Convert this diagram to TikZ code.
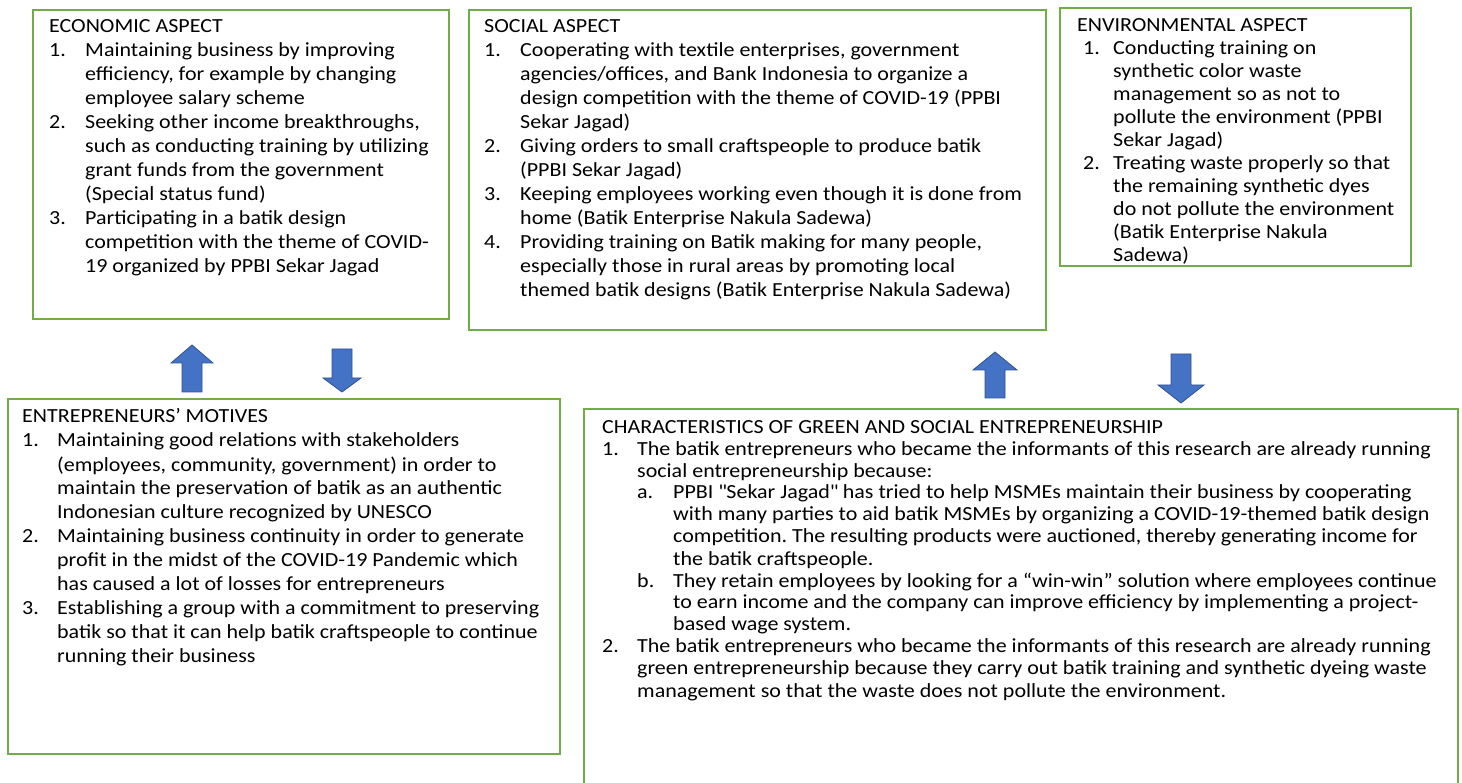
\documentclass[tikz,border=0pt]{standalone}
\usepackage{fontspec}
\setmainfont{Carlito}[FakeStretch=1.1]
\usepackage{xcolor}
\usepackage{tikz}
\usetikzlibrary{calc}
\usetikzlibrary{positioning}
\definecolor{boxgreen}{HTML}{70AD47}
\definecolor{arrowblue}{HTML}{4472C4}
\definecolor{arrowedge}{HTML}{2F528F}
\frenchspacing

\begin{document}
\begin{tikzpicture}[x=1pt,y=-1pt]
% 1 = 1px of the page, y grows downwards
    \def\SHAFT{10}  %half width of arrow shafts
    \def\NUMCOL{36pt} %width of the number column

    \tikzset{
      aspect box/.style={draw=boxgreen, line width=2pt},
      box text/.style={anchor=base west, inner sep=0pt, align=left},
      block arrow/.style={fill=arrowblue, draw=arrowedge, line width=0.8pt},
    }

    \clip (0,0) rectangle (1462,783);

    %ECONOMIC BOX
    \draw [aspect box] (33,10) coordinate (EA) rectangle (449,319) coordinate (EB);
    \node[box text] (econ) at (49,33) {\fontsize{20}{24}\selectfont
      \begin{tabular}[t]{@{}p{\NUMCOL}@{}l@{}}
      \multicolumn{2}{@{}l@{}}{ECONOMIC ASPECT}\\
      1. & Maintaining business by improving\\
         & efficiency, for example by changing\\
         & employee salary scheme\\
      2. & Seeking other income breakthroughs,\\
         & such as conducting training by utilizing\\
         & grant funds from the government\\
         & (Special status fund)\\
      3. & Participating in a batik design\\
         & competition with the theme of COVID-\\
         & 19 organized by PPBI Sekar Jagad
      \end{tabular}};

    %SOCIAL BOX
    \draw [aspect box] (469,10) coordinate (SA) rectangle (1046,330) coordinate (SB);
    \node[box text] (social) at (484,33) {\fontsize{20}{24}\selectfont
      \begin{tabular}[t]{@{}p{\NUMCOL}@{}l@{}}
      \multicolumn{2}{@{}l@{}}{SOCIAL ASPECT}\\
      1. & Cooperating with textile enterprises, government\\
         & agencies/offices, and Bank Indonesia to organize a\\
         & design competition with the theme of COVID-19 (PPBI\\
         & Sekar Jagad)\\
      2. & Giving orders to small craftspeople to produce batik\\
         & (PPBI Sekar Jagad)\\
      3. & Keeping employees working even though it is done from\\
         & home (Batik Enterprise Nakula Sadewa)\\
      4. & Providing training on Batik making for many people,\\
         & especially those in rural areas by promoting local\\
         & themed batik designs (Batik Enterprise Nakula Sadewa)
      \end{tabular}};

    %ENVIRONMENTAL BOX
    \draw [aspect box] (1060,8) coordinate (NA) rectangle (1411,266) coordinate (NB);
    \node[box text] (env) at (1077,32) {\fontsize{20}{23}\selectfont
      \begin{tabular}[t]{@{}p{\NUMCOL}@{}l@{}}
      \multicolumn{2}{@{}l@{}}{ENVIRONMENTAL ASPECT}\\
      \hspace{6pt}1. & Conducting training on\\
         & synthetic color waste\\
         & management so as not to\\
         & pollute the environment (PPBI\\
         & Sekar Jagad)\\
      \hspace{6pt}2. & Treating waste properly so that\\
         & the remaining synthetic dyes\\
         & do not pollute the environment\\
         & (Batik Enterprise Nakula\\
         & Sadewa)
      \end{tabular}};

    %MOTIVES BOX
    \draw [aspect box] (8,399) coordinate (MA) rectangle (560,754) coordinate (MB);
    \node[box text] (motives) at (22,423) {\fontsize{20}{24}\selectfont
      \begin{tabular}[t]{@{}p{35pt}@{}l@{}}
      \multicolumn{2}{@{}l@{}}{ENTREPRENEURS’ MOTIVES}\\
      1. & Maintaining good relations with stakeholders\\
         & (employees, community, government) in order to\\
         & maintain the preservation of batik as an authentic\\
         & Indonesian culture recognized by UNESCO\\
      2. & Maintaining business continuity in order to generate\\
         & profit in the midst of the COVID-19 Pandemic which\\
         & has caused a lot of losses for entrepreneurs\\
      3. & Establishing a group with a commitment to preserving\\
         & batik so that it can help batik craftspeople to continue\\
         & running their business
      \end{tabular}};

    %CHARACTERISTICS BOX (runs off the page)
    \draw [aspect box] (584,409) coordinate (CA) rectangle (1458,800) coordinate (CB);
    \node[box text] (chars) at (602,433) {\fontsize{20}{22}\selectfont
      \begin{tabular}[t]{@{}p{35pt}@{}l@{}}
      \multicolumn{2}{@{}l@{}}{CHARACTERISTICS OF GREEN AND SOCIAL ENTREPRENEURSHIP}\\
      1. & The batik entrepreneurs who became the informants of this research are already running\\
         & social entrepreneurship because:\\
         & \makebox[36pt][l]{a.}PPBI \textquotedbl Sekar Jagad\textquotedbl{} has tried to help MSMEs maintain their business by cooperating\\
         & \hspace{36pt}with many parties to aid batik MSMEs by organizing a COVID-19-themed batik design\\
         & \hspace{36pt}competition. The resulting products were auctioned, thereby generating income for\\
         & \hspace{36pt}the batik craftspeople.\\
         & \makebox[36pt][l]{b.}They retain employees by looking for a “win-win” solution where employees continue\\
         & \hspace{36pt}to earn income and the company can improve efficiency by implementing a project-\\
         & \hspace{36pt}based wage system.\\
      2. & The batik entrepreneurs who became the informants of this research are already running\\
         & green entrepreneurship because they carry out batik training and synthetic dyeing waste\\
         & management so that the waste does not pollute the environment.
      \end{tabular}};

    % LEFT UP ARROW (MOTIVES TO ECONOMIC)
    \filldraw[block arrow] (192-\SHAFT,392) -- (192-\SHAFT,363) -- (171,363) -- (192,345)
        -- (213,363) -- (192+\SHAFT,363) -- (192+\SHAFT,392) -- cycle;
    % LEFT DOWN ARROW (ECONOMIC TO MOTIVES)
    \filldraw[block arrow] (342-\SHAFT,349) -- (342+\SHAFT,349) -- (342+\SHAFT,378) -- (361,378)
        -- (342,392) -- (323,378) -- (342-\SHAFT,378) -- cycle;

    % RIGHT UP ARROW (CHARACTERISTICS TO SOCIAL)
    \filldraw[block arrow] (995-\SHAFT,398) -- (995-\SHAFT,370) -- (973,370) -- (995,352)
        -- (1017,370) -- (995+\SHAFT,370) -- (995+\SHAFT,398) -- cycle;
    % RIGHT DOWN ARROW (SOCIAL TO CHARACTERISTICS)
    \filldraw[block arrow] (1181-\SHAFT,354) -- (1181+\SHAFT,354) -- (1181+\SHAFT,385) -- (1204,385)
        -- (1181,403) -- (1158,385) -- (1181-\SHAFT,385) -- cycle;

\end{tikzpicture}
\end{document}
